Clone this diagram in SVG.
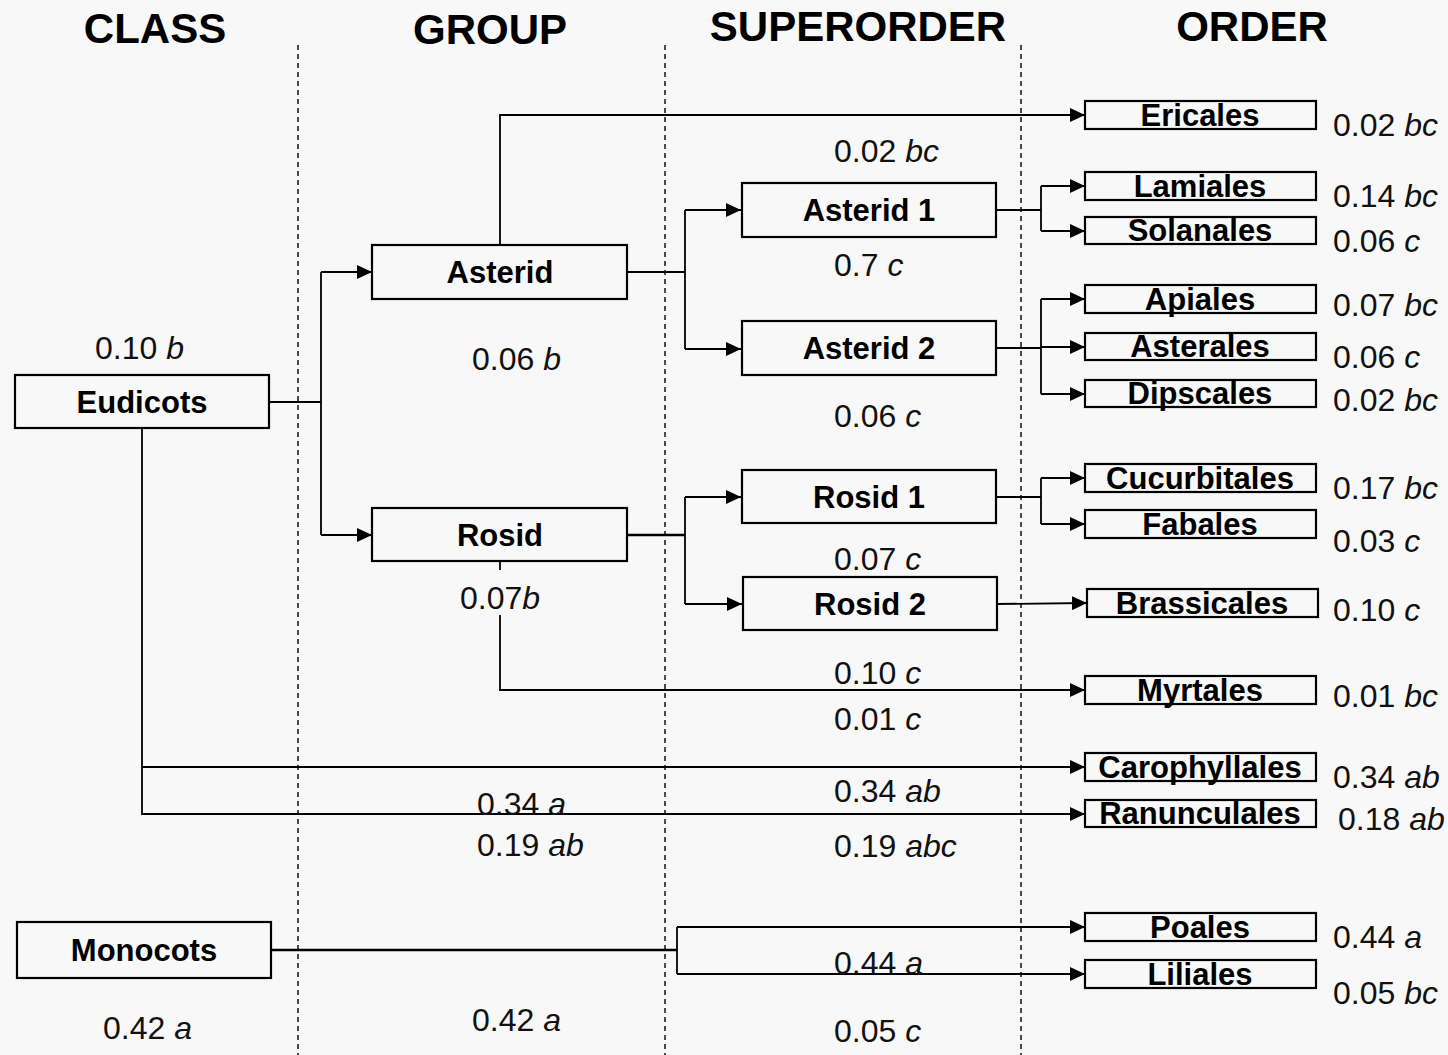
<svg xmlns="http://www.w3.org/2000/svg" width="1448" height="1055" viewBox="0 0 1448 1055">
<defs>
<marker id="arr" markerUnits="userSpaceOnUse" markerWidth="16" markerHeight="14" refX="15" refY="7" orient="auto">
<path d="M0,0 L15,7 L0,14 Z" fill="#000"/>
</marker>
<style>
.hd{font-family:"Liberation Sans",Arial,sans-serif;font-weight:bold;font-size:42px;text-anchor:middle;fill:#000}
.lb{font-family:"Liberation Sans",Arial,sans-serif;font-weight:bold;font-size:31px;text-anchor:middle;fill:#000}
.ob{font-family:"Liberation Sans",Arial,sans-serif;font-weight:bold;font-size:31px;text-anchor:middle;fill:#000}
.nm{font-family:"Liberation Sans",Arial,sans-serif;font-size:32px;fill:#111}
.it{font-style:italic}
.box{fill:none;stroke:#000;stroke-width:2.2}
.sep{stroke:#000;stroke-width:1.4;stroke-dasharray:5,4;fill:none}
.ln{fill:none;stroke:#000;stroke-width:1.8}
.thk{fill:none;stroke:#000;stroke-width:2.6}
</style>
</defs>
<rect x="0" y="0" width="1448" height="1055" fill="#f8f8f8"/>

<g id="headers">
<text class="hd" x="155" y="43">CLASS</text>
<text class="hd" x="490" y="44">GROUP</text>
<text class="hd" x="858" y="41">SUPERORDER</text>
<text class="hd" x="1252" y="41">ORDER</text>
</g>

<g id="separators">
<line class="sep" x1="298" y1="45" x2="298" y2="1055"/>
<line class="sep" x1="665" y1="45" x2="665" y2="1055"/>
<line class="sep" x1="1021" y1="45" x2="1021" y2="1055"/>
</g>

<g id="connectors">
<path class="ln" d="M269,402 H321 M321,272 V535"/>
<path class="ln" d="M321,272 H372" marker-end="url(#arr)"/>
<path class="ln" d="M321,535 H372" marker-end="url(#arr)"/>
<path class="ln" d="M500,244 V115 H1085" marker-end="url(#arr)"/>
<path class="ln" d="M627,272 H685 M685,210 V349"/>
<path class="ln" d="M685,210 H741" marker-end="url(#arr)"/>
<path class="ln" d="M685,349 H741" marker-end="url(#arr)"/>
<path class="ln" d="M996,210 H1041 M1041,186 V231"/>
<path class="ln" d="M1041,186 H1085" marker-end="url(#arr)"/>
<path class="ln" d="M1041,231 H1085" marker-end="url(#arr)"/>
<path class="ln" d="M996,348 H1041 M1041,299 V394"/>
<path class="ln" d="M1041,299 H1085" marker-end="url(#arr)"/>
<path class="ln" d="M1041,347 H1085" marker-end="url(#arr)"/>
<path class="ln" d="M1041,394 H1085" marker-end="url(#arr)"/>
<path class="thk" d="M627,535 H685"/>
<path class="ln" d="M685,497 V604"/>
<path class="ln" d="M685,497 H741" marker-end="url(#arr)"/>
<path class="ln" d="M685,604 H742" marker-end="url(#arr)"/>
<path class="ln" d="M996,497 H1041 M1041,478 V524"/>
<path class="ln" d="M1041,478 H1085" marker-end="url(#arr)"/>
<path class="ln" d="M1041,524 H1085" marker-end="url(#arr)"/>
<path class="ln" d="M996,604 L1087,603" marker-end="url(#arr)"/>
<path class="ln" d="M500,561 V570"/>
<path class="ln" d="M500,615 V690 H1085" marker-end="url(#arr)"/>
<path class="ln" d="M142,428 V814 H1085" marker-end="url(#arr)"/>
<path class="ln" d="M142,767 H1085" marker-end="url(#arr)"/>
<path class="thk" d="M271,950 H677"/>
<path class="ln" d="M677,927 V974"/>
<path class="ln" d="M677,927 H1085" marker-end="url(#arr)"/>
<path class="ln" d="M677,974 H1085" marker-end="url(#arr)"/>
</g>

<g id="node-eudicots"><rect class="box" x="15" y="375" width="254" height="53"/><text class="lb" x="142" y="413">Eudicots</text></g>
<g id="node-monocots"><rect class="box" x="17" y="922" width="254" height="56"/><text class="lb" x="144" y="961">Monocots</text></g>
<g id="node-asterid"><rect class="box" x="372" y="245" width="255" height="54"/><text class="lb" x="500" y="283">Asterid</text></g>
<g id="node-rosid"><rect class="box" x="372" y="508" width="255" height="53"/><text class="lb" x="500" y="546">Rosid</text></g>
<g id="node-asterid1"><rect class="box" x="742" y="183" width="254" height="54"/><text class="lb" x="869" y="221">Asterid 1</text></g>
<g id="node-asterid2"><rect class="box" x="742" y="321" width="254" height="54"/><text class="lb" x="869" y="359">Asterid 2</text></g>
<g id="node-rosid1"><rect class="box" x="742" y="470" width="254" height="53"/><text class="lb" x="869" y="508">Rosid 1</text></g>
<g id="node-rosid2"><rect class="box" x="743" y="577" width="254" height="53"/><text class="lb" x="870" y="615">Rosid 2</text></g>

<g id="node-ericales"><rect class="box" x="1085" y="101" width="231" height="28"/><text class="ob" x="1200" y="126">Ericales</text></g>
<g id="node-lamiales"><rect class="box" x="1085" y="172" width="231" height="28"/><text class="ob" x="1200" y="197">Lamiales</text></g>
<g id="node-solanales"><rect class="box" x="1085" y="217" width="231" height="27"/><text class="ob" x="1200" y="241">Solanales</text></g>
<g id="node-apiales"><rect class="box" x="1085" y="285" width="231" height="28"/><text class="ob" x="1200" y="310">Apiales</text></g>
<g id="node-asterales"><rect class="box" x="1085" y="333" width="231" height="27"/><text class="ob" x="1200" y="357">Asterales</text></g>
<g id="node-dipscales"><rect class="box" x="1085" y="380" width="231" height="27"/><text class="ob" x="1200" y="404">Dipscales</text></g>
<g id="node-cucurbitales"><rect class="box" x="1085" y="464" width="231" height="28"/><text class="ob" x="1200" y="489">Cucurbitales</text></g>
<g id="node-fabales"><rect class="box" x="1085" y="510" width="231" height="28"/><text class="ob" x="1200" y="535">Fabales</text></g>
<g id="node-brassicales"><rect class="box" x="1087" y="589" width="231" height="28"/><text class="ob" x="1202" y="614">Brassicales</text></g>
<g id="node-myrtales"><rect class="box" x="1085" y="676" width="231" height="28"/><text class="ob" x="1200" y="701">Myrtales</text></g>
<g id="node-carophyllales"><rect class="box" x="1085" y="753" width="231" height="28"/><text class="ob" x="1200" y="778">Carophyllales</text></g>
<g id="node-ranunculales"><rect class="box" x="1085" y="800" width="231" height="27"/><text class="ob" x="1200" y="824">Ranunculales</text></g>
<g id="node-poales"><rect class="box" x="1085" y="913" width="231" height="28"/><text class="ob" x="1200" y="938">Poales</text></g>
<g id="node-liliales"><rect class="box" x="1085" y="960" width="231" height="28"/><text class="ob" x="1200" y="985">Liliales</text></g>

<g id="values">
<text class="nm" x="95" y="359">0.10 <tspan class="it">b</tspan></text>
<text class="nm" x="472" y="370">0.06 <tspan class="it">b</tspan></text>
<text class="nm" x="460" y="609">0.07<tspan class="it">b</tspan></text>
<text class="nm" x="477" y="815">0.34 <tspan class="it">a</tspan></text>
<text class="nm" x="477" y="856">0.19 <tspan class="it">ab</tspan></text>
<text class="nm" x="103" y="1039">0.42 <tspan class="it">a</tspan></text>
<text class="nm" x="472" y="1031">0.42 <tspan class="it">a</tspan></text>
<text class="nm" x="834" y="162">0.02 <tspan class="it">bc</tspan></text>
<text class="nm" x="834" y="276">0.7 <tspan class="it">c</tspan></text>
<text class="nm" x="834" y="427">0.06 <tspan class="it">c</tspan></text>
<text class="nm" x="834" y="570">0.07 <tspan class="it">c</tspan></text>
<text class="nm" x="834" y="684">0.10 <tspan class="it">c</tspan></text>
<text class="nm" x="834" y="730">0.01 <tspan class="it">c</tspan></text>
<text class="nm" x="834" y="802">0.34 <tspan class="it">ab</tspan></text>
<text class="nm" x="834" y="857">0.19 <tspan class="it">abc</tspan></text>
<text class="nm" x="834" y="974">0.44 <tspan class="it">a</tspan></text>
<text class="nm" x="834" y="1042">0.05 <tspan class="it">c</tspan></text>
<text class="nm" x="1333" y="136">0.02 <tspan class="it">bc</tspan></text>
<text class="nm" x="1333" y="207">0.14 <tspan class="it">bc</tspan></text>
<text class="nm" x="1333" y="252">0.06 <tspan class="it">c</tspan></text>
<text class="nm" x="1333" y="316">0.07 <tspan class="it">bc</tspan></text>
<text class="nm" x="1333" y="368">0.06 <tspan class="it">c</tspan></text>
<text class="nm" x="1333" y="411">0.02 <tspan class="it">bc</tspan></text>
<text class="nm" x="1333" y="499">0.17 <tspan class="it">bc</tspan></text>
<text class="nm" x="1333" y="552">0.03 <tspan class="it">c</tspan></text>
<text class="nm" x="1333" y="621">0.10 <tspan class="it">c</tspan></text>
<text class="nm" x="1333" y="707">0.01 <tspan class="it">bc</tspan></text>
<text class="nm" x="1333" y="788">0.34 <tspan class="it">ab</tspan></text>
<text class="nm" x="1338" y="830">0.18 <tspan class="it">ab</tspan></text>
<text class="nm" x="1333" y="948">0.44 <tspan class="it">a</tspan></text>
<text class="nm" x="1333" y="1004">0.05 <tspan class="it">bc</tspan></text>
</g>
</svg>
